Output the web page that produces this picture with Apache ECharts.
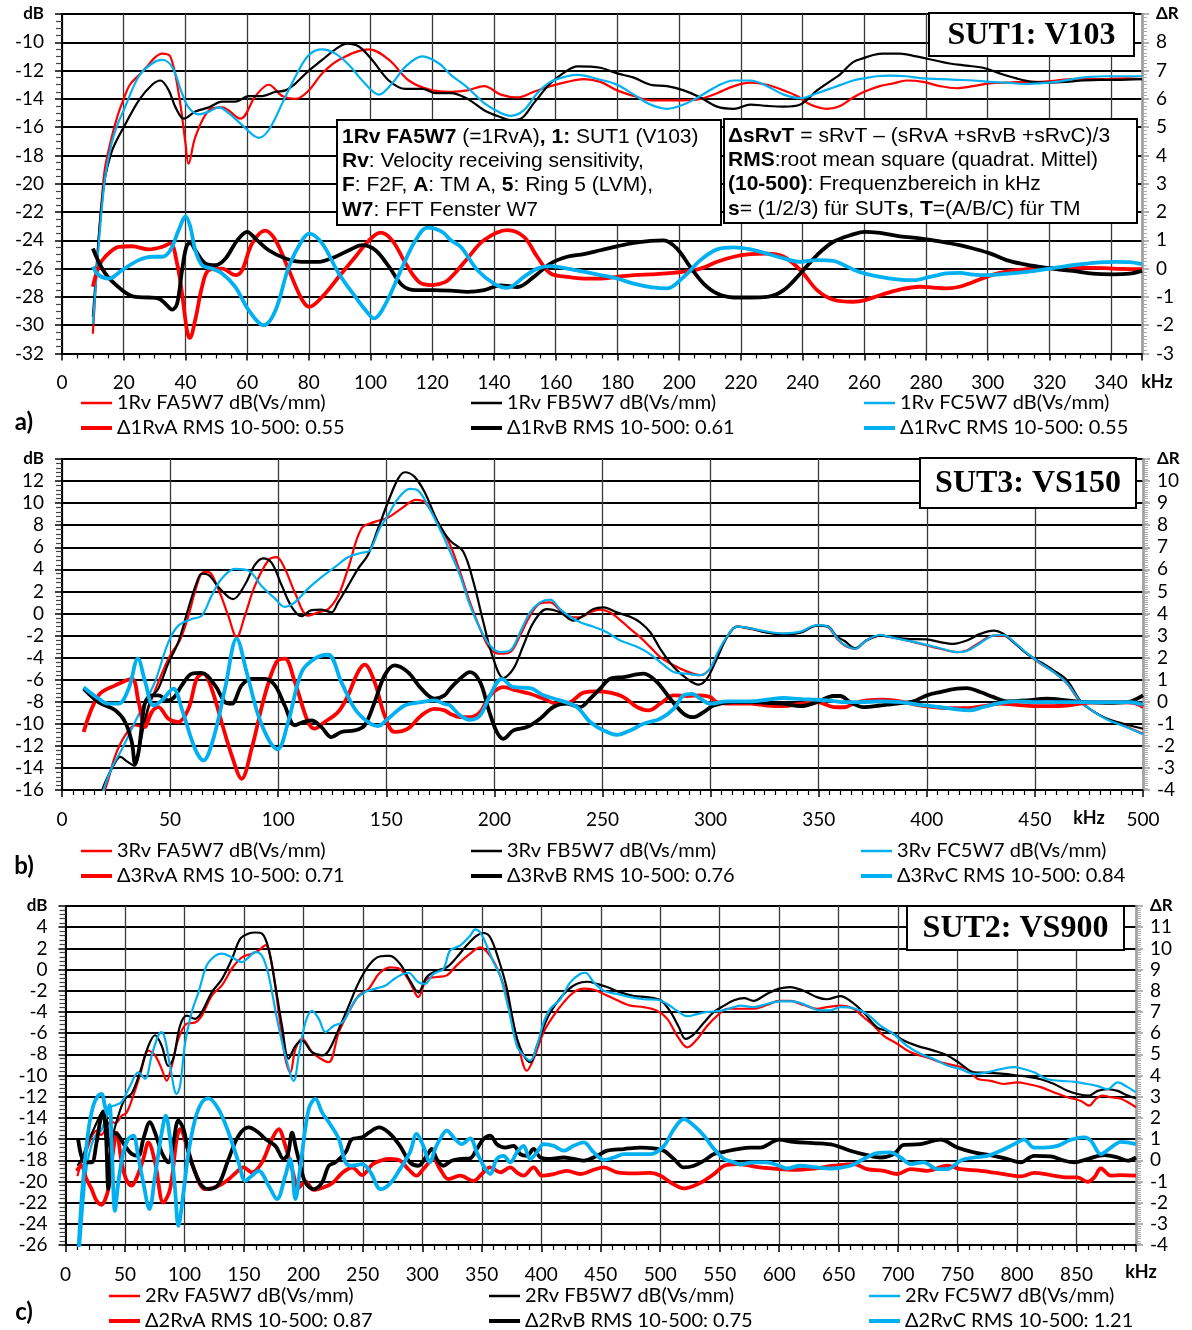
<!DOCTYPE html>
<html>
<head>
<meta charset="utf-8">
<script src="https://cdn.jsdelivr.net/npm/echarts@6/dist/echarts.min.js"></script>
<style>
  html, body { margin: 0; padding: 0; background: #fff; }
  #chart { width: 1192px; height: 1330px; }
</style>
</head>
<body>
<div id="chart"></div>
<script>
// ---------- SUT1 (V103): sensitivity in dB(Vs/mm) and deviation from mean, frequency in kHz ----------
const sut1RvA = [[10,-30.6],[11,-27],[12,-23.5],[13,-20.8],[14,-18.8],[16,-16.8],[18,-15.2],[20,-14.0],[22,-13.0],[25,-12.3],[28,-11.6],[30,-11.1],[32.4,-10.8],[35.1,-11.0],[37.8,-13.6],[40,-17.1],[41,-18.6],[43.2,-16.7],[47.6,-14.8],[51.9,-14.6],[57.8,-15.4],[62.7,-13.8],[67,-13.0],[71.4,-13.8],[75.7,-14.0],[80,-13.4],[84.3,-12.2],[89.7,-11.25],[99.5,-10.5],[106,-11.25],[112.4,-12.7],[120,-13.4],[126,-13.5],[131.4,-13.4],[136.8,-13.1],[142.2,-13.7],[147.6,-13.9],[152.9,-13.5],[158.3,-13.1],[163.7,-12.8],[169.1,-12.6],[174.5,-12.8],[179.9,-13.4],[185.3,-13.8],[190.7,-14.1],[196.1,-14.1],[201.5,-14.1],[206.9,-14.0],[212.3,-13.6],[217.7,-13.1],[223.1,-12.85],[228.5,-13.0],[233.9,-13.4],[238.2,-13.8],[242.5,-14.4],[247.9,-14.7],[252.2,-14.5],[256.4,-13.9],[260,-13.5],[265,-13.1],[269.4,-12.9],[273.7,-12.7],[279.1,-12.8],[284.5,-13.1],[289.9,-13.25],[295.3,-13.1],[300.7,-12.9],[306.1,-12.85],[311.5,-12.8],[316.9,-12.8],[322.2,-12.7],[327.6,-12.6],[333,-12.6],[338.4,-12.6],[344.9,-12.55],[350,-12.6]];
const sut1RvB = [[10,-29.4],[11,-26.5],[12,-23.5],[13,-21.2],[14,-19.5],[16,-17.8],[18,-16.8],[20,-16.0],[24.9,-14.1],[29.2,-13.0],[31.9,-12.7],[34.6,-13.4],[36.8,-14.6],[39.5,-15.4],[43.2,-14.9],[47.6,-14.6],[51.9,-14.2],[56.2,-14.2],[60.5,-13.8],[64.9,-13.8],[69.2,-13.5],[72.4,-13.4],[75.7,-12.9],[80,-12.0],[84.3,-11.25],[88.6,-10.5],[92.4,-10.1],[96.2,-10.3],[100.5,-11.25],[105.9,-12.7],[111.4,-13.3],[116.8,-13.3],[121.1,-13.6],[126,-13.6],[131.4,-14.0],[136.8,-14.8],[142.2,-15.3],[145.4,-15.5],[148.7,-15.4],[152.9,-14.3],[158.3,-12.9],[163.7,-12.0],[167,-11.7],[174.5,-11.8],[179.9,-12.2],[185.3,-12.5],[190.7,-13.0],[196.1,-13.1],[201.5,-13.4],[206.9,-13.9],[212.3,-14.55],[217.7,-14.7],[223.1,-14.4],[228.5,-14.5],[233.9,-14.55],[239.3,-14.4],[244.7,-13.4],[250,-12.6],[252,-12.3],[256.4,-11.4],[260,-11.1],[262.9,-10.9],[266.1,-10.8],[271.5,-10.8],[276.9,-11.0],[282.3,-11.25],[287.7,-11.5],[293.1,-11.65],[298.5,-11.8],[303.9,-12.2],[309.3,-12.55],[314.7,-12.8],[320.1,-12.85],[325.4,-12.8],[330.8,-12.7],[336.2,-12.65],[341.6,-12.65],[350,-12.6]];
const sut1RvC = [[10,-29.9],[11,-27],[12,-24],[13,-21.5],[14,-19.5],[16,-17.2],[18,-15.8],[20,-14.8],[24.9,-12.4],[29.2,-11.5],[32.4,-11.25],[35.6,-11.7],[38.9,-13.6],[41,-14.6],[44.3,-15.1],[47.6,-14.9],[50.8,-14.6],[54,-15.0],[58.4,-15.85],[63.8,-16.75],[67,-16.2],[71.4,-14.3],[75.7,-12.4],[80,-10.9],[84.3,-10.5],[88.6,-10.8],[93,-11.6],[97.3,-12.7],[102.7,-13.7],[107,-12.9],[111.4,-11.7],[116.8,-11.0],[122.2,-11.5],[126,-12.3],[131.4,-13.2],[136.8,-14.3],[142.2,-15.0],[145.4,-15.2],[149.7,-14.8],[154,-13.6],[158.3,-12.8],[163.7,-12.4],[167,-12.3],[174.5,-12.65],[179.9,-13.0],[185.3,-13.7],[190.7,-14.4],[196.1,-14.7],[201.5,-14.4],[206.9,-13.8],[212.3,-13.1],[217.7,-12.7],[223.1,-12.7],[228.5,-13.1],[233.9,-13.7],[239.3,-13.95],[244.7,-13.6],[250,-13.2],[256.4,-12.7],[260,-12.55],[264,-12.4],[268.3,-12.35],[273.7,-12.4],[279.1,-12.55],[284.5,-12.6],[289.9,-12.65],[295.3,-12.7],[300.7,-12.8],[306.1,-12.85],[311.5,-12.95],[316.9,-12.9],[322.2,-12.8],[327.6,-12.6],[333,-12.45],[338.4,-12.4],[344.9,-12.4],[350,-12.4]];
const sut1DeltaA = [[10,-0.64],[11.9,0.07],[14,0.42],[18.4,0.77],[22.7,0.79],[28.1,0.68],[32.4,0.77],[35.1,0.89],[37.3,0.18],[38.9,-0.88],[40.5,-2.18],[41.4,-2.45],[43.2,-1.8],[45.4,-0.64],[47.6,-0.05],[51.9,0.0],[56.2,-0.23],[58.4,-0.05],[61.6,0.89],[65.9,1.34],[69.2,1.0],[73.5,-0.05],[77.8,-1.1],[80.2,-1.35],[84.3,-1.0],[89.7,-0.29],[95.1,0.42],[99.5,1.0],[103.2,1.27],[107,1.0],[111.4,0.18],[115.7,-0.47],[120,-0.58],[124.3,-0.47],[127,-0.2],[131.4,0.36],[136.8,1.01],[144.3,1.36],[149.7,1.12],[154,0.42],[158.3,-0.17],[163.7,-0.29],[169.1,-0.35],[174.5,-0.35],[179.9,-0.29],[185.3,-0.23],[190.7,-0.2],[196.1,-0.17],[201.5,-0.11],[206.9,0.0],[212.3,0.24],[217.7,0.42],[223.1,0.51],[228.5,0.53],[233.9,0.42],[239.3,-0.05],[244.7,-0.76],[250,-1.1],[256.4,-1.17],[260,-1.12],[265.1,-0.94],[271.5,-0.74],[278,-0.64],[282.3,-0.67],[286.6,-0.70],[290.9,-0.64],[295.3,-0.47],[299.6,-0.29],[303.9,-0.15],[309.3,-0.05],[314.7,0.0],[320.1,0.03],[327.6,0.03],[334.1,0.03],[340.5,0.0],[350,-0.02]];
const sut1DeltaB = [[10,0.71],[14,-0.17],[19.5,-0.76],[23.8,-1.0],[28.1,-1.02],[31.4,-1.06],[33.5,-1.24],[35.7,-1.45],[37.3,-1.24],[38.9,-0.06],[40.3,0.77],[41.6,0.92],[43.2,0.65],[46.5,0.18],[49.7,0.12],[53,0.36],[56.8,1.0],[60,1.3],[62.7,1.06],[67,0.65],[72.4,0.36],[77.8,0.24],[83.2,0.24],[88.6,0.42],[93,0.65],[97.3,0.83],[101.6,0.65],[106,0.06],[110.3,-0.59],[114.6,-0.76],[120,-0.76],[126,-0.78],[131.4,-0.82],[136.8,-0.76],[142.2,-0.59],[147.6,-0.65],[152.9,-0.29],[158.3,0.18],[163.7,0.42],[169.1,0.51],[174.5,0.65],[179.9,0.79],[185.3,0.91],[190.7,0.98],[195,1.0],[199.3,0.71],[203.6,0.06],[207.9,-0.53],[212.3,-0.88],[217.7,-1.02],[223.1,-1.02],[228.5,-1.0],[233.9,-0.76],[239.3,-0.17],[244.7,0.48],[250,0.95],[256.4,1.21],[260,1.3],[265.1,1.26],[271.5,1.14],[278,1.07],[282.3,1.0],[286.6,0.92],[290.9,0.83],[295.3,0.71],[300.7,0.54],[306.1,0.3],[311.5,0.16],[316.9,0.06],[322.2,-0.02],[327.6,-0.08],[334.1,-0.18],[340.5,-0.2],[345.9,-0.18],[350,-0.08]];
const sut1DeltaC = [[10,0.07],[11.9,-0.23],[15.1,-0.35],[19.5,-0.05],[24.9,0.3],[29.2,0.42],[32.4,0.42],[35.1,0.65],[37.8,1.36],[40.1,1.85],[41.6,1.47],[43.2,0.65],[45.4,0.12],[48.6,0.0],[51.9,-0.17],[56.2,-0.65],[60.5,-1.47],[65.4,-2.0],[69.2,-1.47],[73.5,0.06],[77.8,1.0],[80.2,1.24],[84.3,0.89],[89.7,-0.17],[95.1,-1.0],[98.4,-1.47],[101.1,-1.76],[104.9,-1.24],[110.3,0.06],[114.6,1.0],[118.4,1.45],[123.2,1.3],[126,1.0],[129.2,0.77],[134.6,-0.05],[140,-0.53],[144.3,-0.68],[149.7,-0.29],[154,0.0],[158.3,0.09],[163.7,0.0],[169.1,-0.11],[174.5,-0.23],[179.9,-0.35],[185.3,-0.53],[190.7,-0.65],[196.1,-0.7],[201.5,-0.29],[206.9,0.3],[212.3,0.68],[217.7,0.75],[223.1,0.68],[228.5,0.53],[233.9,0.36],[239.3,0.24],[244.7,0.3],[250,0.27],[253,0.15],[256.4,-0.03],[260,-0.17],[265.1,-0.29],[271.5,-0.39],[275.9,-0.41],[281.3,-0.29],[286.6,-0.17],[290.9,-0.15],[295.3,-0.21],[299.6,-0.23],[303.9,-0.2],[309.3,-0.15],[314.7,-0.09],[320.1,0.0],[325.4,0.09],[330.8,0.16],[336.2,0.22],[341.6,0.24],[345.9,0.23],[350,0.16]];

// ---------- SUT3 (VS150) ----------
const sut3RvA = [[15,-18],[20,-15.9],[24.6,-12.9],[29.2,-11.05],[33.8,-10.15],[37.7,-10.3],[40,-8.6],[44.6,-6.2],[50,-3.8],[54.6,-2.4],[58.5,-0.2],[62.3,2.5],[65.4,3.75],[67.7,3.75],[72.3,2.2],[76.9,-0.2],[80.8,-2.15],[84.6,-0.2],[89.2,2.5],[95.4,4.8],[99.2,5.1],[103.1,4.05],[107.7,1.9],[113.8,-0.2],[118.5,0.1],[123.1,0.4],[127.7,1.6],[132.3,4.05],[138.5,7.7],[144.6,8.3],[150.8,8.7],[156.9,9.5],[163.8,10.3],[167.7,10.1],[173.8,8.3],[179.5,6.2],[184.1,3.75],[188.7,1.0],[193.4,-1.4],[198,-3.2],[202.6,-3.65],[207.3,-3.5],[211.9,-2.0],[216.5,-0.2],[221.1,0.9],[225.8,1.0],[230.4,0.3],[235,-0.3],[239.7,-0.35],[244.3,0.1],[248.9,0.35],[253.5,0.1],[258.2,-0.6],[262.8,-1.4],[267.4,-2.15],[272.1,-3.05],[276.7,-3.95],[282.9,-4.7],[289,-5.25],[295.2,-5.6],[299.8,-5.0],[302.9,-3.8],[307.6,-2.15],[312.2,-1.2],[318.4,-1.4],[326.1,-1.7],[333.8,-1.85],[341.5,-1.7],[349.2,-1.1],[353.9,-1.2],[358.5,-2.3],[362,-2.9],[367,-3.2],[372,-2.45],[378.4,-2.0],[384.6,-2.2],[390.7,-2.45],[400,-2.9],[406.2,-3.2],[413.9,-3.5],[418.5,-3.35],[424.7,-2.6],[430.9,-2.0],[435.5,-2.0],[440.1,-2.6],[446.3,-3.65],[452.5,-4.55],[458.6,-5.3],[464.8,-6.35],[471,-8.0],[477.2,-8.9],[483.3,-9.55],[491,-10.15],[500,-10.9]];
const sut3RvB = [[17,-17],[20,-15.3],[24.6,-13.5],[27,-13.0],[30,-13.4],[33.5,-13.8],[36,-12],[38.5,-9.5],[41.5,-7.6],[44.6,-6.8],[49.2,-4.5],[53.8,-2.6],[58.5,0.5],[62.3,2.8],[64.6,3.6],[67.7,3.5],[72.3,2.4],[76.9,1.5],[79.2,1.3],[84.6,2.6],[89.2,4.4],[93,5.0],[96.9,4.6],[101.5,2.6],[106.2,0.6],[110.8,-0.25],[115.4,0.3],[120,0.35],[124.6,0.1],[127.7,1.0],[132.3,2.5],[136.9,4.05],[141.5,5.3],[146.2,7.7],[150.8,10.1],[155.4,12.2],[158.5,12.8],[163,12.4],[167.7,11.0],[173.8,8.3],[179.5,6.6],[185.6,5.6],[190.3,2.85],[194.9,-0.8],[199.5,-4.1],[204.2,-5.85],[208.8,-5.0],[213.4,-2.9],[218.1,-0.8],[224.2,0.4],[230.4,0.1],[236.6,-0.65],[241.2,-0.2],[245.8,0.4],[250.5,0.55],[256.6,0.1],[262.8,-0.3],[267.4,-0.8],[272.1,-1.7],[276.7,-3.2],[282.9,-4.85],[289,-5.9],[294.4,-6.45],[298.3,-5.9],[302.9,-4.1],[307.6,-2.15],[312.2,-1.2],[318.4,-1.35],[326.1,-1.75],[333.8,-1.9],[341.5,-1.75],[349.2,-1.1],[353.9,-1.15],[358.5,-2.1],[362,-2.5],[367,-3.15],[372,-2.45],[378.4,-2.0],[384.6,-2.15],[390.7,-2.3],[400,-2.35],[406.2,-2.6],[412.3,-2.75],[418.5,-2.45],[424.7,-1.85],[430.9,-1.55],[435.5,-1.85],[440.1,-2.6],[446.3,-3.65],[452.5,-4.4],[458.6,-5.15],[464.8,-6.05],[471,-7.9],[477.2,-8.9],[483.3,-9.55],[491,-10.0],[500,-10.45]];
const sut3RvC = [[18,-17],[19.2,-16],[23,-14],[27.7,-12.3],[34.6,-9.5],[38.5,-8.0],[43,-6.2],[49.2,-2.6],[53.8,-1.1],[60,-0.5],[64.6,-0.2],[69.2,1.6],[73.8,3.15],[80,4.05],[86.2,3.9],[92.3,2.5],[98.5,1.35],[103,0.6],[107.7,1.0],[113.8,2.25],[120,3.3],[126.2,4.2],[132.3,5.1],[138.5,5.5],[142.3,5.7],[146.9,7.7],[150.8,8.9],[155.4,10.4],[160.8,11.3],[164.6,11.15],[169.2,9.8],[175.4,7.4],[179.5,5.6],[184.1,3.45],[188.7,0.75],[193.4,-1.4],[198,-2.9],[202.6,-3.5],[207.3,-3.35],[211.9,-1.7],[216.5,0.1],[221.1,1.0],[225.8,1.25],[230.4,0.4],[235,-0.3],[239.7,-0.8],[245.8,-1.2],[252,-1.7],[258.2,-2.45],[264.4,-2.9],[270.6,-3.5],[276.7,-4.4],[282.9,-5.3],[289,-5.45],[295.2,-5.6],[299.8,-5.0],[302.9,-3.7],[307.6,-2.1],[312.2,-1.2],[318.4,-1.35],[326.1,-1.65],[333.8,-1.8],[341.5,-1.65],[349.2,-1.05],[353.9,-1.15],[358.5,-2.2],[362,-2.85],[367,-3.2],[372,-2.45],[378.4,-1.95],[384.6,-2.2],[390.7,-2.45],[400,-2.85],[406.2,-3.15],[413.9,-3.5],[418.5,-3.4],[424.7,-2.7],[430.9,-2.0],[435.5,-1.95],[440.1,-2.55],[446.3,-3.6],[452.5,-4.5],[458.6,-5.3],[464.8,-6.3],[471,-7.95],[477.2,-8.9],[483.3,-9.6],[491,-10.2],[500,-10.95]];
const sut3DeltaA = [[10,-1.37],[16.9,0.29],[24.6,0.74],[32.3,1.04],[35.4,0.0],[38.5,-1.15],[41.5,-0.47],[44.6,-0.24],[49.2,-0.77],[53.8,-0.92],[58.5,-0.32],[62.3,1.04],[65.4,1.27],[69.2,0.59],[73.8,-0.92],[78.5,-2.43],[83.1,-3.49],[87.7,-2.13],[93.8,0.29],[99.2,1.8],[103.1,1.95],[107.7,0.89],[113.8,-0.92],[116.9,-1.22],[121.5,-0.92],[127.7,-0.47],[132.3,0.29],[136.9,1.34],[140,1.68],[144.6,0.89],[149.2,-0.62],[153.8,-1.37],[160,-1.22],[166.2,-0.62],[172.3,-0.32],[176.9,-0.39],[179.5,-0.54],[184.1,-0.7],[188.7,-0.7],[193.4,-0.47],[198,0.29],[204.2,0.66],[210.3,0.51],[216.5,0.36],[222.7,0.14],[228.9,-0.09],[235,-0.02],[241.2,0.41],[247.4,0.47],[253.5,0.41],[259.7,0.21],[265.9,-0.24],[271.3,-0.39],[276.7,-0.09],[282.9,0.29],[289,0.26],[295.2,0.29],[299.8,0.21],[302.9,-0.02],[310.6,-0.09],[318,-0.09],[326.1,-0.17],[333.8,-0.2],[341.5,-0.09],[349.2,-0.02],[356.9,-0.24],[362,-0.25],[366,-0.09],[372.2,0.06],[380,0.09],[387.7,0.02],[395.4,-0.14],[403,-0.24],[410.8,-0.29],[418.5,-0.29],[426.2,-0.2],[434,-0.09],[441.7,-0.14],[449.5,-0.2],[457.2,-0.2],[464.8,-0.17],[472.5,-0.06],[480.2,-0.02],[487.9,-0.02],[495.6,-0.05],[500,-0.24]];
const sut3DeltaB = [[10,0.59],[16.9,-0.02],[24.6,-0.39],[29.2,-0.92],[32.3,-1.83],[33.8,-2.81],[35.4,-2.28],[37,-1.0],[38.5,-0.02],[41.5,0.29],[44.6,0.29],[49.2,0.06],[52,0.21],[55.4,0.74],[60,1.27],[64.6,1.31],[70.8,0.74],[75.4,-0.02],[78.5,-0.09],[83.1,0.74],[87.7,1.04],[93.8,1.04],[98.5,0.74],[103,-0.17],[107.7,-1.07],[111.5,-0.92],[115.4,-0.85],[120,-1.15],[124.6,-1.6],[129.2,-1.37],[135.4,-1.3],[140,-1.07],[144.6,-0.02],[149.2,1.19],[153.8,1.65],[160,1.34],[166.2,0.59],[172.3,0.14],[176.9,0.29],[179.5,0.59],[184.1,1.04],[188.7,1.34],[193.4,0.89],[197.2,-0.32],[201.1,-1.37],[204.2,-1.68],[208.8,-1.3],[215,-1.15],[221.1,-0.77],[227.3,-0.24],[233.5,-0.09],[239.7,-0.24],[244.3,0.14],[248.9,0.59],[253.5,1.04],[259.7,1.12],[269,1.27],[275.2,0.89],[281.3,0.14],[287.5,-0.54],[292.1,-0.7],[296.8,-0.47],[301.4,-0.17],[310.6,-0.02],[318,-0.02],[326,-0.05],[333.8,-0.09],[341.5,-0.2],[349.2,-0.02],[356.9,0.26],[360,0.26],[364.6,-0.02],[370.7,-0.24],[378.4,-0.17],[386.1,-0.09],[393.8,0.02],[400,0.29],[406.2,0.44],[413.9,0.59],[418.5,0.62],[424.7,0.44],[430.9,0.21],[437,0.02],[446.3,0.06],[455.6,0.14],[464.8,0.06],[474.1,-0.02],[483.3,-0.05],[492.6,-0.02],[500,0.29]];
const sut3DeltaC = [[10,0.66],[16.9,0.14],[21.5,-0.09],[26.2,-0.09],[30.8,0.59],[35.1,1.95],[38.5,0.89],[42.3,-0.17],[46.2,0.06],[51.5,0.59],[55.4,-0.32],[61.5,-2.13],[65.4,-2.66],[70,-1.68],[75.4,0.59],[80.8,2.86],[85.4,1.34],[90.8,-0.62],[96.2,-1.83],[99.7,-2.16],[104.6,-0.92],[110.8,1.34],[116.9,1.95],[123.1,2.13],[129.2,0.89],[135.4,-0.32],[141.5,-0.92],[146.2,-1.1],[150.8,-0.77],[158.5,-0.17],[166.2,-0.02],[172.3,0.06],[176.9,-0.1],[179.5,-0.17],[184.1,-0.62],[188.7,-0.82],[193.4,-0.62],[198,0.29],[203.4,1.04],[208.8,0.66],[216.5,0.62],[222.7,0.29],[230.4,0.06],[238.1,-0.24],[244.3,-0.92],[250.5,-1.3],[256.6,-1.5],[262.8,-1.3],[269,-1.0],[276.7,-0.77],[282.9,-0.32],[287.5,0.29],[291.4,0.36],[295.2,0.14],[299.8,-0.09],[307.6,0.02],[318,0.02],[326.1,0.09],[333.8,0.17],[341.5,0.12],[349.2,0.09],[357,0.03],[362,-0.02],[369.2,-0.02],[378.4,0.02],[387.7,-0.02],[396.9,-0.14],[406.2,-0.24],[413.9,-0.35],[420,-0.39],[426.2,-0.24],[434,-0.05],[441.7,0.02],[449.5,-0.02],[458.8,-0.02],[468,-0.02],[477.2,-0.02],[486.4,-0.02],[494.1,-0.02],[500,-0.14]];

// ---------- SUT2 (VS900) ----------
const sut2RvA = [[10,-19.5],[14,-18],[18,-17],[22,-15.8],[26,-15.2],[30,-15.6],[34,-15],[38,-14.3],[42,-14.5],[47.2,-13.8],[51.4,-13.5],[57,-11.9],[62.6,-10],[69.7,-7.65],[75.3,-8.1],[80.9,-9.4],[85.1,-10.5],[89.3,-9.1],[94.9,-6.55],[102,-5.1],[109,-5.0],[114.6,-4.35],[123,-2.45],[131.5,-1.5],[139.9,0.1],[148.3,1.15],[156.7,1.5],[162.4,1.8],[168,2.3],[173.6,0.4],[179.2,-4.0],[184.8,-8.4],[189,-9.7],[193.3,-7.5],[198.9,-6.55],[207.3,-7.8],[214.3,-8.4],[221.3,-8.75],[229.8,-5.9],[238.2,-4.0],[246.6,-2.45],[255,-1.8],[263.5,-0.4],[272.8,0.2],[281.2,0.05],[289.6,-1.2],[296.6,-2.6],[303.7,-0.9],[312.1,-0.7],[320.5,-0.55],[328.9,0.4],[340.2,1.5],[348.6,2.1],[357,1.3],[365.4,-0.55],[373.9,-3.7],[380.9,-7.2],[387.9,-9.55],[393.5,-8.45],[402,-5.9],[410.4,-4.35],[418.8,-3.1],[427.2,-2.15],[435.7,-1.8],[444.1,-1.9],[452.5,-2.3],[463.8,-2.9],[475,-3.4],[486.2,-3.55],[497.5,-3.9],[505.9,-4.65],[514.3,-6.25],[522.8,-7.35],[531.2,-6.55],[539.6,-5.3],[548,-4.35],[556.5,-3.7],[567.7,-3.7],[578.4,-3.7],[589.6,-3.35],[600,-2.95],[609.3,-2.95],[620.5,-3.35],[631.7,-3.7],[640.2,-3.55],[651.4,-3.4],[662.6,-3.7],[671.1,-4.5],[679.5,-5.3],[687.9,-6.25],[699.2,-7.0],[710.4,-7.8],[724.4,-8.3],[735.7,-8.75],[746.9,-9.05],[758.1,-9.4],[766.6,-10.3],[777.8,-10.5],[789,-10.8],[800.3,-10.65],[808.7,-10.8],[819.9,-11.1],[831.2,-11.6],[842.4,-12.05],[853.7,-12.4],[860.7,-12.85],[866.3,-12.2],[871.9,-11.9],[878.9,-12.05],[887.4,-12.2],[900,-13.0]];
const sut2RvB = [[10,-18.5],[14,-17.8],[18,-16.5],[22,-15.5],[26,-14.5],[30.3,-13.5],[33.1,-13.3],[35.5,-15],[37.4,-17],[40.2,-15.5],[44.4,-13.8],[50,-12.2],[55.6,-11.7],[62.6,-9.7],[69.7,-7.2],[75.3,-6.2],[80.9,-7.2],[86.5,-9.1],[90.7,-8.4],[96.3,-5.3],[102,-4.35],[109,-4.65],[114.6,-4.0],[123,-2.15],[131.5,-0.9],[139.9,1.0],[146.9,2.9],[154,3.4],[159.6,3.5],[165.2,3.4],[170.8,1.95],[176.4,-1.5],[182,-5.3],[187.6,-8.4],[193.3,-7.2],[198.9,-6.7],[207.3,-7.8],[215.7,-8.1],[221.3,-7.65],[229.8,-5.6],[238.2,-3.4],[246.6,-1.2],[255,0.4],[262,1.15],[269,1.3],[272.8,1.3],[281.2,0.55],[289.6,-1.05],[296.6,-2.15],[303.7,-0.7],[312.1,-0.1],[320.5,0.2],[328.9,1.15],[337.4,2.3],[345.8,3.2],[351.4,3.45],[357,3.05],[364,1.0],[371.1,-1.8],[378.1,-5.9],[385.1,-8.1],[390.7,-8.75],[396.3,-7.2],[404.8,-4.65],[413.2,-3.1],[421.6,-2.0],[430,-1.35],[438.5,-1.15],[446.9,-1.35],[455.3,-1.65],[466.6,-2.15],[477.8,-2.5],[489,-2.6],[500.3,-2.9],[508.7,-4.0],[515.7,-5.45],[521.3,-6.55],[528.4,-6.1],[536.8,-5.0],[545.2,-4.0],[553.7,-3.4],[562.1,-2.9],[570.5,-2.7],[578.4,-2.95],[589.6,-2.3],[600,-1.8],[609.3,-1.65],[620.5,-2.0],[631.7,-2.6],[640.2,-2.8],[651.4,-2.5],[659.8,-2.95],[671.1,-4.05],[682.3,-5.45],[693.5,-5.9],[704.8,-6.7],[716,-7.2],[730,-7.65],[741.3,-8.1],[752.5,-8.9],[763.8,-9.7],[775,-9.75],[789,-9.85],[800.3,-10.0],[808.7,-10.1],[819.9,-10.35],[831.2,-10.8],[842.4,-11.45],[850.8,-11.75],[860.7,-11.9],[867.7,-11.45],[876.1,-11.3],[884.6,-11.45],[893,-11.9],[900,-12.15]];
const sut2RvC = [[12,-26.5],[15,-22],[18,-18.5],[22,-16.5],[26,-15.5],[30,-15.2],[34,-14],[38,-13],[42,-12.8],[47.2,-12.5],[54.2,-11],[61.2,-9.7],[66.9,-10.3],[72.5,-8.1],[78.1,-6.2],[80.9,-5.9],[83.7,-6.55],[87.9,-9.1],[93.5,-11.75],[96.3,-11],[100.6,-6.9],[106.2,-4.0],[111.8,-2.15],[118.8,0.4],[125.8,1.3],[131.5,1.5],[139.9,1.15],[148.3,0.7],[154,1.15],[159.6,1.65],[165.2,1.3],[170.8,-0.55],[177.8,-4.65],[184.8,-8.1],[191.9,-10.5],[196.1,-8.1],[201.7,-5.0],[207.3,-3.9],[213,-4.65],[218.5,-5.9],[225.6,-5.3],[232.6,-5.0],[238.2,-4.0],[244,-2.8],[252.2,-2.1],[260.7,-1.8],[269.1,-1.5],[275,-1.0],[281.2,-0.55],[288.2,-0.3],[296.6,-1.2],[302.2,-1.35],[309.3,-0.4],[317.7,0.05],[323.3,1.8],[331.7,2.25],[340.2,3.2],[344.4,3.8],[348.6,3.5],[354.2,2.25],[359.8,0.7],[365.4,-0.55],[372.5,-3.7],[379.5,-7.2],[385.1,-8.1],[390.7,-8.6],[396.3,-7.2],[402,-5.0],[407.6,-3.7],[416,-2.8],[424.4,-1.2],[432.9,-0.4],[437.1,-0.3],[444.1,-1.2],[452.5,-2.0],[463.8,-2.3],[475,-2.6],[486.2,-2.8],[497.5,-2.85],[505.9,-3.25],[514.3,-3.9],[522.8,-4.4],[531.2,-4.2],[539.6,-4.0],[550.8,-3.9],[562.1,-3.55],[567,-3.4],[578.4,-3.55],[589.6,-3.25],[600,-3.0],[612.1,-3.0],[623.3,-3.4],[634.6,-3.85],[643,-3.85],[651.4,-3.55],[662.6,-3.65],[673.9,-4.2],[685.1,-5.3],[696.3,-6.1],[707.6,-7.2],[718.8,-7.95],[730,-8.45],[741.3,-9.05],[752.5,-9.4],[763.8,-9.85],[775,-9.7],[786.2,-9.4],[797.5,-9.2],[805.9,-9.4],[814.3,-9.7],[825.6,-10.35],[836.8,-10.5],[848,-10.6],[859.3,-10.8],[867.7,-11.0],[876.1,-11.3],[884.6,-10.65],[893,-11.1],[900,-11.6]];
const sut2DeltaA = [[9.3,-0.5],[13.5,-0.26],[17,-0.8],[21.9,-1.36],[26,-1.9],[30.3,-2.1],[33,-1.9],[36,-1.36],[39.5,0.2],[43,1.3],[47.2,-0.1],[51,-0.9],[55.6,-1.2],[60,-0.8],[65.4,0.06],[69.7,0.84],[75.3,-0.1],[82.3,-2.0],[87.9,-1.36],[93.5,1.0],[96.3,1.47],[102,0.68],[109,-0.57],[117.4,-1.36],[128.7,-1.2],[137.1,-0.9],[143,-0.6],[149.7,-0.34],[156.7,-0.57],[165.2,-0.1],[173.6,1.0],[179.2,1.47],[184.8,0.68],[190.5,-0.42],[196,-1.3],[201.7,-1.0],[208.7,-1.4],[215.7,-1.3],[224,-1.1],[232.6,-0.6],[241,-0.35],[249.4,-0.7],[258,-0.2],[266,0.0],[272.8,0.06],[281.2,-0.02],[288.2,-0.42],[295.2,-0.73],[300.8,-0.42],[309.3,0.06],[314.9,-0.42],[321.9,-0.89],[331.7,-0.73],[343,-0.97],[350,-0.65],[357,-0.34],[365.4,-0.57],[373.9,-0.34],[380,-0.6],[385.1,-0.73],[393.5,-0.34],[400.6,-0.73],[410.4,-0.65],[421.6,-0.5],[432.9,-0.65],[444.1,-0.45],[452.5,-0.34],[463.8,-0.57],[477.8,-0.62],[491.9,-0.6],[500.3,-0.73],[508.7,-1.05],[519.9,-1.33],[528.4,-1.2],[536.8,-0.97],[545.2,-0.65],[553.7,-0.26],[564.9,-0.18],[576.1,-0.26],[584,-0.34],[600,-0.42],[612.1,-0.45],[628.9,-0.39],[645.8,-0.26],[662.6,-0.18],[673.9,-0.42],[687.9,-0.5],[699.2,-0.65],[710.4,-0.42],[724.4,-0.5],[741.3,-0.26],[752.5,-0.42],[769.4,-0.5],[789,-0.65],[803.1,-0.76],[814.3,-0.6],[828.4,-0.7],[842.4,-0.81],[850.8,-0.81],[859.3,-1.02],[864.9,-0.81],[870.5,-0.39],[878.9,-0.73],[887.4,-0.7],[900,-0.73]];
const sut2DeltaB = [[10.7,0.97],[16.3,-0.1],[21.9,-0.1],[26,0.8],[29,1.8],[31.5,2.3],[34,1.2],[36,-1.36],[38,0.3],[40.2,1.3],[44,1.2],[50,0.68],[55.6,0.3],[61.2,0.21],[65.4,1.0],[71,1.8],[75.3,1.3],[80.9,0.37],[86.5,-0.1],[90.7,0.84],[94.9,1.87],[99.2,1.47],[103.4,0.37],[109,-0.57],[114.6,-1.2],[120.2,-1.36],[128.7,-1.13],[137.1,0.06],[145.5,1.16],[154,1.55],[162.4,1.3],[168,1.0],[176.4,0.68],[183.4,0.06],[187,0.3],[190.5,1.3],[194,0.5],[197.5,-0.26],[201.7,-1.05],[208.7,-1.36],[215.7,-1.05],[221.3,-0.26],[227,-0.1],[235.4,0.37],[241,1.0],[249.4,1.08],[255,1.3],[263.5,1.55],[271.9,1.3],[281.2,0.68],[289.6,-0.1],[296.6,-0.26],[303.7,0.21],[307.9,0.53],[312.1,0.06],[317.7,-0.26],[324.7,-0.02],[333.1,0.06],[340.2,0.09],[345.8,0.53],[351.4,1.0],[357,1.16],[362.6,0.76],[369.7,0.6],[376.7,0.68],[382.3,0.29],[387.9,0.21],[393.5,0.53],[399.2,0.13],[407.6,0.06],[418.8,0.13],[427.2,0.06],[435.7,-0.02],[446.9,0.21],[455.3,0.45],[469.4,0.53],[483.4,0.6],[494.7,0.56],[503.1,0.45],[511.5,0.06],[519.9,-0.34],[528.4,-0.26],[536.8,-0.02],[545.2,0.29],[553.7,0.4],[564.9,0.53],[576.1,0.6],[584,0.6],[600,0.97],[612.1,0.87],[628.9,0.81],[645.8,0.72],[659.8,0.45],[673.9,0.24],[685.1,0.13],[696.3,0.29],[704.8,0.72],[718.8,0.76],[735.7,0.97],[749.7,0.6],[763.8,0.37],[780.6,0.21],[791.9,0.06],[803.1,-0.1],[814.3,0.21],[828.4,0.18],[839.6,-0.02],[848,-0.1],[859.3,0.06],[873.3,0.24],[884.6,0.13],[893,-0.02],[900,0.13]];
const sut2DeltaC = [[10.7,-4.5],[14,-1.5],[19,1.3],[23.3,2.57],[27.5,3.05],[30.3,3.13],[33.1,2.57],[35,2.2],[37,2.6],[39,0.5],[41.6,-2.39],[44.4,-1.05],[48.6,0.37],[52.8,1.0],[57,1.16],[61,0.2],[65.4,-1.05],[70.5,-2.3],[75.3,-0.73],[80.9,1.3],[84.3,2.1],[87.9,1.0],[92.1,-1.36],[94.9,-3.1],[99.2,-1.5],[103.4,0.37],[109,1.94],[114.6,2.73],[120.2,2.92],[128.7,2.4],[137.1,1.3],[145.5,-0.1],[151.1,-0.97],[156.7,-0.73],[162.4,-0.5],[170.8,-1.2],[177.8,-1.83],[184.8,-0.73],[189,0.06],[193.3,-1.83],[197.5,-0.26],[204.5,2.42],[210.1,2.9],[215.7,2.26],[221.3,1.8],[229.8,1.0],[235.4,-0.1],[241,-0.26],[249.4,-0.18],[256.5,-0.57],[264.9,-1.36],[272.8,-1.1],[281.2,-0.42],[289.6,0.37],[295.2,1.24],[300.8,0.68],[306.5,-0.1],[310.5,0.5],[314.9,1.0],[320.5,1.4],[327.5,1.0],[333.1,0.76],[340.2,1.03],[345.8,0.37],[351.4,-0.26],[357,-0.65],[362.6,0.06],[368.3,0.21],[373.9,-0.1],[379.5,0.37],[385.1,0.68],[390.7,0.06],[396.3,0.37],[402,0.76],[410.4,0.68],[418.8,0.45],[427.2,0.68],[435.7,0.84],[444.1,0.37],[452.5,0.02],[460.9,0.13],[469.4,0.29],[480.6,0.29],[491.9,0.29],[503.1,0.68],[511.5,1.47],[519.9,1.94],[528.4,1.63],[536.8,1.16],[545.2,0.53],[553.7,0.06],[562.1,-0.1],[567.1,-0.2],[578.4,-0.1],[589.6,-0.1],[600,-0.26],[606.5,-0.39],[617.7,-0.26],[631.7,-0.34],[643,-0.39],[659.8,-0.26],[671.1,0.06],[682.3,0.34],[693.5,0.37],[702,0.13],[710.4,-0.18],[721.6,-0.1],[733,-0.42],[741.3,-0.42],[752.5,-0.02],[763.8,0.13],[775,0.21],[786.2,0.45],[797.5,0.76],[805.9,0.97],[814.3,0.6],[822.8,0.6],[834,0.68],[845.2,0.97],[856.5,1.08],[862.1,0.92],[870.5,0.29],[878.9,0.6],[887.4,0.87],[900,0.76]];

// ---------- series labels ----------
const sut1Names = ['1Rv FA5W7 dB(Vs/mm)', '1Rv FB5W7 dB(Vs/mm)', '1Rv FC5W7 dB(Vs/mm)',
                   'Δ1RvA RMS 10-500: 0.55', 'Δ1RvB RMS 10-500: 0.61', 'Δ1RvC RMS 10-500: 0.55'];
const sut3Names = ['3Rv FA5W7 dB(Vs/mm)', '3Rv FB5W7 dB(Vs/mm)', '3Rv FC5W7 dB(Vs/mm)',
                   'Δ3RvA RMS 10-500: 0.71', 'Δ3RvB RMS 10-500: 0.76', 'Δ3RvC RMS 10-500: 0.84'];
const sut2Names = ['2Rv FA5W7 dB(Vs/mm)', '2Rv FB5W7 dB(Vs/mm)', '2Rv FC5W7 dB(Vs/mm)',
                   'Δ2RvA RMS 10-500: 0.87', 'Δ2RvB RMS 10-500: 0.75', 'Δ2RvC RMS 10-500: 1.21'];
const panelTitles = ['SUT1: V103', 'SUT3: VS150', 'SUT2: VS900'];
const panelTags = ['a)', 'b)', 'c)'];

const RED = '#FF0000', BLACK = '#000000', CYAN = '#00B0F0';
const COLORS = [RED, BLACK, CYAN, RED, BLACK, CYAN];
const SANS = 'Lato, "Noto Sans", sans-serif';
const ARIAL = '"Liberation Sans", Arial, sans-serif';
const SERIF = '"Liberation Serif", "Times New Roman", serif';

const panels = [
  {
    names: sut1Names, data: [sut1RvA, sut1RvB, sut1RvC, sut1DeltaA, sut1DeltaB, sut1DeltaC],
    grid: { left: 62, top: 14, width: 1080, height: 339.5 },
    x: { max: 350, interval: 20, minor: 4, hideMax: true },
    yl: { min: -32, max: -8, interval: 2, minor: 4 },
    yr: { min: -3, max: 9, interval: 1, minor: 8 },
    legendX: [81, 471, 864], legendY: [403, 428],
    titleBox: { x: 929, y: 13, w: 205, h: 43 },
    khz: [1157, 382], tag: [24, 422]
  },
  {
    names: sut3Names, data: [sut3RvA, sut3RvB, sut3RvC, sut3DeltaA, sut3DeltaB, sut3DeltaC],
    grid: { left: 62, top: 459, width: 1081, height: 331 },
    x: { max: 500, interval: 50, minor: 10, hideMax: false },
    yl: { min: -16, max: 14, interval: 2, minor: 5 },
    yr: { min: -4, max: 11, interval: 1, minor: 10 },
    legendX: [81, 471, 861], legendY: [851, 876],
    titleBox: { x: 920, y: 458, w: 216, h: 50 },
    khz: [1089, 818], tag: [24, 866]
  },
  {
    names: sut2Names, data: [sut2RvA, sut2RvB, sut2RvC, sut2DeltaA, sut2DeltaB, sut2DeltaC],
    grid: { left: 65.5, top: 906, width: 1070.5, height: 339 },
    x: { max: 900, interval: 50, minor: 5, hideMax: true },
    yl: { min: -26, max: 6, interval: 2, minor: 5 },
    yr: { min: -4, max: 12, interval: 1, minor: 10 },
    legendX: [109, 489, 869], legendY: [1296, 1321],
    titleBox: { x: 907, y: 906, w: 217, h: 44 },
    khz: [1141, 1272], tag: [24, 1312]
  }
];

const option = {
  animation: false,
  backgroundColor: '#fff',
  grid: [], xAxis: [], yAxis: [], series: [], legend: [], graphic: []
};

panels.forEach((p, i) => {
  option.grid.push(Object.assign({ containLabel: false }, p.grid));

  option.xAxis.push({
    type: 'value', gridIndex: i, min: 0, max: p.x.max, interval: p.x.interval,
    axisLine: { onZero: false, lineStyle: { color: '#000', width: 2 } },
    axisTick: { show: true, length: 7, lineStyle: { color: '#000', width: 1.5 } },
    minorTick: { show: true, splitNumber: p.x.minor, length: 5, lineStyle: { color: '#000', width: 1.2 } },
    splitLine: { show: true, lineStyle: { color: '#3a3a3a', width: 1.3 } },
    axisLabel: {
      color: '#000', fontFamily: SANS, fontSize: 19, margin: 20,
      showMaxLabel: !p.x.hideMax,
      formatter: v => (p.x.hideMax && v === p.x.max) ? '' : String(v)
    }
  });

  option.yAxis.push({
    type: 'value', gridIndex: i, position: 'left',
    min: p.yl.min, max: p.yl.max, interval: p.yl.interval,
    axisLine: { show: true, onZero: false, lineStyle: { color: '#000', width: 2 } },
    axisTick: { show: true, length: 7, lineStyle: { color: '#000', width: 1.5 } },
    minorTick: { show: true, splitNumber: p.yl.minor, length: 6, lineStyle: { color: '#444', width: 1.2 } },
    splitLine: { show: true, lineStyle: { color: '#000', width: 1.8 } },
    axisLabel: {
      color: '#000', fontFamily: SANS, fontSize: 19, margin: 18,
      formatter: v => v === p.yl.max ? '{u|dB}' : String(v),
      rich: { u: { fontFamily: SANS, fontSize: 17, fontWeight: 'bold', color: '#000' } }
    }
  });

  option.yAxis.push({
    type: 'value', gridIndex: i, position: 'right',
    min: p.yr.min, max: p.yr.max, interval: p.yr.interval,
    axisLine: { show: true, onZero: false, lineStyle: { color: '#9a9a9a', width: 2.5 } },
    axisTick: { show: true, length: 7, lineStyle: { color: '#9a9a9a', width: 1.5 } },
    minorTick: { show: true, splitNumber: p.yr.minor, length: 5, lineStyle: { color: '#aaa', width: 1 } },
    splitLine: { show: false },
    axisLabel: {
      color: '#000', fontFamily: SANS, fontSize: 19, margin: 14,
      formatter: v => v === p.yr.max ? '{u|ΔR}' : String(v),
      rich: { u: { fontFamily: SANS, fontSize: 17, fontWeight: 'bold', color: '#000' } }
    }
  });

  p.names.forEach((name, j) => {
    const isDelta = j >= 3;
    option.series.push({
      name, type: 'line', xAxisIndex: i, yAxisIndex: isDelta ? 2 * i + 1 : 2 * i,
      data: p.data[j], symbol: 'none', showSymbol: false, smooth: 0.35, clip: true,
      lineStyle: { color: COLORS[j], width: isDelta ? 3.8 : 2.2 },
      itemStyle: { color: COLORS[j] },
      emphasis: { disabled: true },
      z: 3 + j
    });
    option.legend.push({
      data: [name], left: p.legendX[j % 3], top: p.legendY[Math.floor(j / 3)] - 11,
      padding: 0, itemGap: 0, itemWidth: 31, itemHeight: isDelta ? 4 : 2.5,
      icon: 'rect', selectedMode: false,
      itemStyle: { borderWidth: 0 },
      textStyle: { fontFamily: SANS, fontSize: 20, color: '#000', lineHeight: 22 }
    });
  });

  // panel title box
  const b = p.titleBox;
  option.graphic.push({
    type: 'rect', z: 100, shape: { x: b.x, y: b.y, width: b.w, height: b.h },
    style: { fill: '#fff', stroke: '#000', lineWidth: 2 }
  });
  option.graphic.push({
    type: 'text', z: 101, x: b.x + b.w / 2, y: b.y + b.h / 2 + 1,
    style: { text: panelTitles[i], font: 'bold 32px ' + SERIF, fill: '#000',
             align: 'center', verticalAlign: 'middle', textAlign: 'center', textVerticalAlign: 'middle' }
  });
  // frequency unit and panel tag
  option.graphic.push({
    type: 'text', z: 101, x: p.khz[0], y: p.khz[1],
    style: { text: 'kHz', font: 'bold 18px ' + SANS, fill: '#000',
             align: 'center', verticalAlign: 'middle', textAlign: 'center', textVerticalAlign: 'middle' }
  });
  option.graphic.push({
    type: 'text', z: 101, x: p.tag[0], y: p.tag[1],
    style: { text: panelTags[i], font: 'bold 24px ' + SANS, fill: '#000',
             align: 'center', verticalAlign: 'middle', textAlign: 'center', textVerticalAlign: 'middle' }
  });
});

// explanatory notes in the SUT1 panel
const noteLeft = [
  '{b|1Rv FA5W7} (=1RvA){b|, 1:} SUT1 (V103)',
  '{b|Rv}: Velocity receiving sensitivity,',
  '{b|F}: F2F, {b|A}: TM A, {b|5}: Ring 5 (LVM),',
  '{b|W7}: FFT Fenster W7'
];
const noteRight = [
  '{b|ΔsRvT} = sRvT – (sRvA +sRvB +sRvC)/3',
  '{b|RMS}:root mean square (quadrat. Mittel)',
  '{b|(10-500)}: Frequenzbereich in kHz',
  '{b|s}= (1/2/3) für SUT{b|s}, {b|T}=(A/B/C) für TM'
];
const noteRich = {
  r: { fontFamily: ARIAL, fontSize: 21, fill: '#000', color: '#000' },
  b: { fontFamily: ARIAL, fontSize: 21, fontWeight: 'bold', fill: '#000', color: '#000' }
};
function addNote(lines, box, textX) {
  option.graphic.push({
    type: 'rect', z: 100, shape: { x: box.x, y: box.y, width: box.w, height: box.h },
    style: { fill: '#fff', stroke: '#000', lineWidth: 2 }
  });
  lines.forEach((ln, k) => {
    option.graphic.push({
      type: 'text', z: 101, x: textX, y: box.y + 17 + k * 24.3,
      style: { text: ln, rich: noteRich, fontFamily: ARIAL, fontSize: 21, fill: '#000',
               align: 'left', verticalAlign: 'middle', textAlign: 'left', textVerticalAlign: 'middle' }
    });
  });
}
addNote(noteLeft, { x: 337, y: 120, w: 384, h: 105 }, 342);
addNote(noteRight, { x: 724, y: 119, w: 413, h: 104 }, 728);

const chart = echarts.init(document.getElementById('chart'), null, { renderer: 'canvas' });
chart.setOption(option);
</script>
</body>
</html>
